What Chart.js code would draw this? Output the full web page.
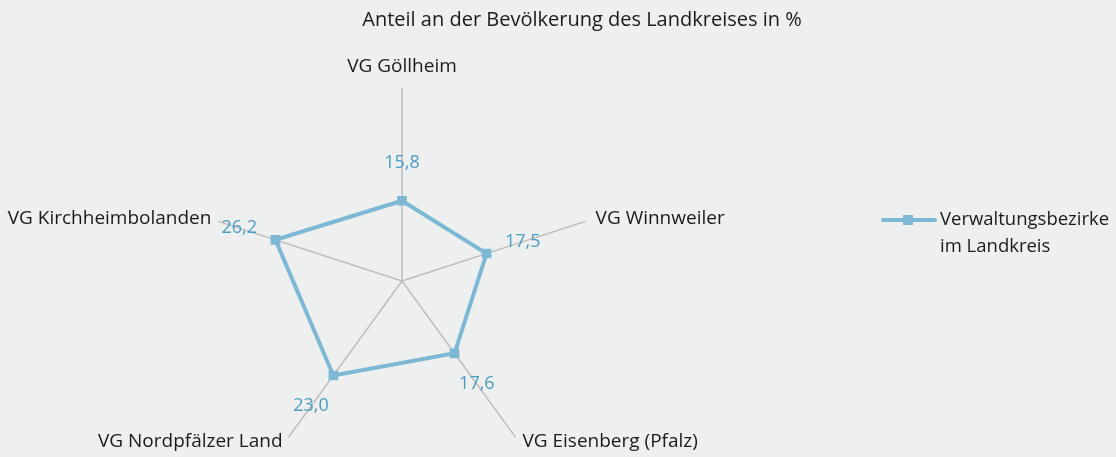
<!DOCTYPE html>
<html>
<head>
<meta charset="utf-8">
<title>Anteil an der Bevölkerung</title>
<style>
body { margin: 0; background: #eef0ef; overflow: hidden; }
.wrap { position: relative; width: 1116px; height: 457px; overflow: hidden; }
</style>
</head>
<body>
<div class="wrap"><canvas id="myChart" width="1116" height="480"></canvas></div>
<script src="https://cdn.jsdelivr.net/npm/chart.js@4/dist/chart.umd.min.js"></script>
<script>
// data
var labels = ["VG Göllheim", "VG Winnweiler", "VG Eisenberg (Pfalz)", "VG Nordpfälzer Land", "VG Kirchheimbolanden"];
var values = [15.8, 17.5, 17.6, 23.0, 26.2];
var seriesName = ["Verwaltungsbezirke", "im Landkreis"];
var titleText = "Anteil an der Bevölkerung des Landkreises in %";

var lineColor = "#7db8d4";
var labelColor = "#4a9cc4";
var fontFam = "'Open Sans', 'Noto Sans', sans-serif";

// where each axis name sits relative to the end of its spoke
var nameAlign = ["center", "left", "left", "right", "right"];
var nameShift = [[0, -21], [10, -3], [7, 4], [-6, 4], [-7, -3]];

var extras = {
  id: 'extras',
  beforeDraw: function(chart) {
    var c = chart.ctx;
    c.save();
    c.fillStyle = '#eef0ef';
    c.fillRect(0, 0, chart.width, chart.height);
    c.restore();
  },
  afterDraw: function(chart) {
    var c = chart.ctx;
    var r = chart.scales.r;
    c.save();
    c.textBaseline = "middle";

    // title
    c.font = "20px " + fontFam;
    c.fillStyle = "#1a1a1a";
    c.textAlign = "center";
    c.fillText(titleText, 582, 20);

    // axis names
    c.font = "19px " + fontFam;
    labels.forEach(function(name, i) {
      var p = r.getPointPosition(i, r.drawingArea);
      c.textAlign = nameAlign[i];
      c.fillText(name, p.x + nameShift[i][0], p.y + nameShift[i][1]);
    });

    // value labels, pushed out along each spoke
    c.font = "18px " + fontFam;
    c.fillStyle = labelColor;
    c.textAlign = "center";
    var meta = chart.getDatasetMeta(0);
    meta.data.forEach(function(pt, i) {
      var ang = r.getIndexAngle(i) - Math.PI / 2;
      var x = pt.x + Math.cos(ang) * 38;
      var y = pt.y + Math.sin(ang) * 38;
      c.fillText(values[i].toFixed(1).replace('.', ','), x, y);
    });

    // legend
    c.strokeStyle = lineColor;
    c.lineWidth = 4;
    c.lineCap = "round";
    c.beginPath();
    c.moveTo(883, 220);
    c.lineTo(935, 220);
    c.stroke();
    c.fillStyle = lineColor;
    c.fillRect(903, 215, 10, 10);
    c.font = "18.5px " + fontFam;
    c.fillStyle = "#1a1a1a";
    c.textAlign = "left";
    c.fillText(seriesName[0], 940, 220);
    c.fillText(seriesName[1], 940, 247);
    c.restore();
  }
};

var ctx = document.getElementById('myChart').getContext('2d');
var chart = new Chart(ctx, {
  type: 'radar',
  data: {
    labels: labels,
    datasets: [{
      label: seriesName.join(' '),
      data: values,
      borderColor: lineColor,
      backgroundColor: lineColor,
      borderWidth: 4,
      fill: false,
      pointStyle: 'rect',
      pointRadius: 4,
      pointHoverRadius: 4
    }]
  },
  options: {
    responsive: false,
    animation: false,
    layout: { padding: { top: 88, bottom: 6, left: 0, right: 312 } },
    plugins: {
      legend: { display: false },
      title: { display: false },
      tooltip: { enabled: false }
    },
    scales: {
      r: {
        min: 0,
        max: 38,
        ticks: { display: false },
        grid: { display: false },
        angleLines: { color: '#bdbdbd', lineWidth: 1.5 },
        pointLabels: { display: false }
      }
    }
  },
  plugins: [extras]
});
</script>
</body>
</html>
